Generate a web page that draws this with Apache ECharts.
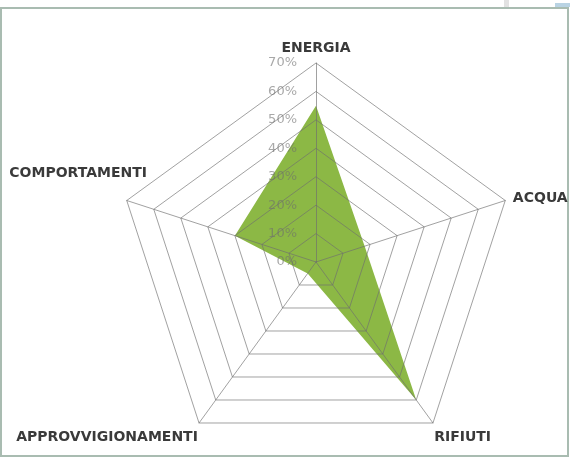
<!DOCTYPE html>
<html>
<head>
<meta charset="utf-8">
<script src="https://cdn.jsdelivr.net/npm/echarts@6/dist/echarts.min.js"></script>
<style>
html,body{margin:0;padding:0;background:#fff;}
#chart{width:570px;height:458px;}
</style>
</head>
<body>
<div id="chart"></div>
<script>
// Listed in the order ECharts lays out radar axes (counter-clockwise from the top)
const categories = ['ENERGIA', 'COMPORTAMENTI', 'APPROVVIGIONAMENTI', 'RIFIUTI', 'ACQUA'];
const values = [55, 30, 5, 60, 18];
const maxValue = 70;
const tickStep = 10;

// per-axis name placement tweaks (style only)
const nameStyles = {
  'COMPORTAMENTI': {align: 'center', verticalAlign: 'bottom', padding: [0, 82, 18, 0]},
  'APPROVVIGIONAMENTI': {verticalAlign: 'top', padding: [6, 0, 0, 0]},
  'RIFIUTI': {verticalAlign: 'top', padding: [6, 0, 0, 0]}
};
const nameGaps = {'COMPORTAMENTI': 8, 'APPROVVIGIONAMENTI': 2, 'RIFIUTI': 2};

const chart = echarts.init(document.getElementById('chart'), null, {renderer: 'canvas'});

const indicator = categories.map(function (name, i) {
  const ind = {name: name, min: 0, max: maxValue};
  if (i === 0) {
    ind.axisLabel = {show: true};
  }
  if (nameStyles[name]) ind.nameTextStyle = nameStyles[name];
  if (nameGaps[name] != null) ind.nameGap = nameGaps[name];
  return ind;
});

chart.setOption({
  animation: false,
  backgroundColor: '#ffffff',
  graphic: [
    {type: 'rect', shape: {x: 1, y: 8, width: 567, height: 448},
     style: {fill: 'none', stroke: '#a9bcb1', lineWidth: 2}, silent: true},
    {type: 'rect', shape: {x: 504, y: 0, width: 5, height: 7},
     style: {fill: '#e2e2e2'}, silent: true},
    {type: 'rect', shape: {x: 555, y: 3, width: 15, height: 4},
     style: {fill: '#b9d3e3'}, silent: true}
  ],
  radar: {
    z: 3,
    center: [316, 262],
    radius: 199,
    startAngle: 90,
    splitNumber: maxValue / tickStep,
    shape: 'polygon',
    indicator: indicator,
    axisName: {
      color: '#3a3a3a',
      fontFamily: 'DejaVu Sans',
      fontWeight: 'bold',
      fontSize: 14
    },
    nameGap: 8,
    axisLine: {lineStyle: {color: 'rgba(110,110,110,0.65)', width: 1}},
    splitLine: {lineStyle: {color: 'rgba(110,110,110,0.65)', width: 1}},
    splitArea: {show: false},
    axisTick: {show: false},
    axisLabel: {
      show: false,
      color: 'rgba(110,110,110,0.6)',
      fontFamily: 'DejaVu Sans',
      fontSize: 13,
      margin: 19,
      formatter: function (v) { return v + '%'; }
    }
  },
  series: [{
    type: 'radar',
    z: 2,
    symbol: 'none',
    lineStyle: {width: 0, color: '#8cb845'},
    areaStyle: {color: '#8cb845', opacity: 1},
    data: [{value: values, name: 'Valori'}]
  }]
});
</script>
</body>
</html>
